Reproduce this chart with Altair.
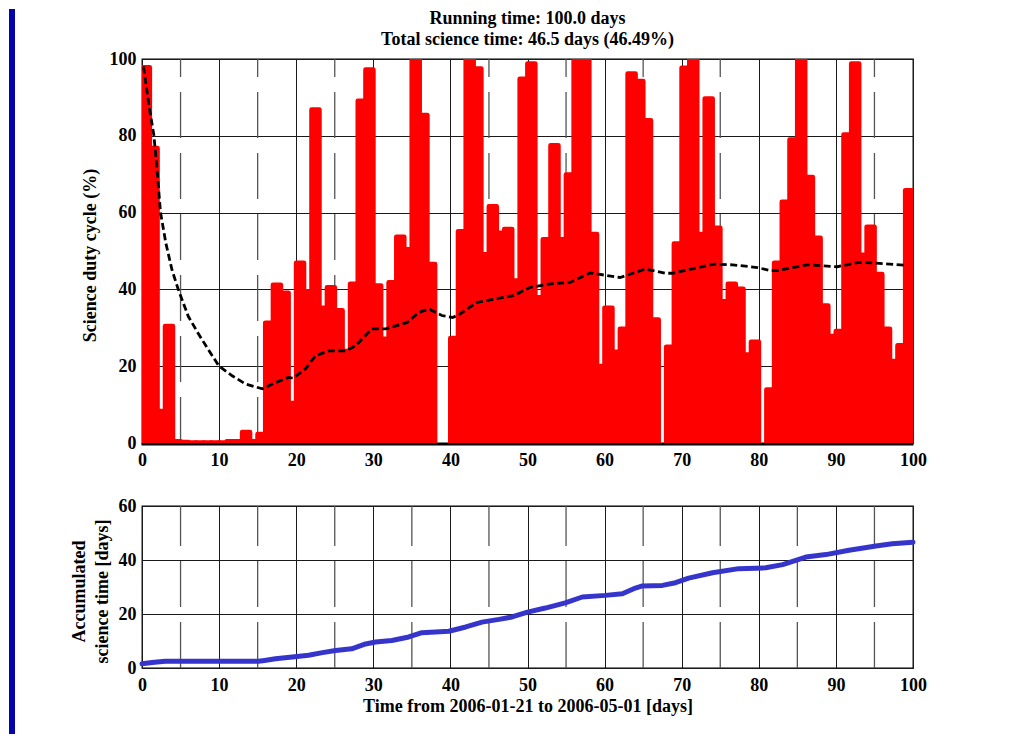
import altair as alt
import pandas as pd

FONT = "Liberation Serif"
RED = "#FF0000"
BLUE_LINE = "#3535CC"
FRAME_BLUE = "#0404AC"

# ---- data -------------------------------------------------------------
day_start = list(range(100))
duty_pct = [97.8, 76.8, 8.3, 30.4, 0.4, 0.2, 0.1, 0.1, 0.1, 0.1,
            0.1, 0.4, 0.4, 2.8, 0.4, 2.3, 31.3, 41.2, 39.1, 10.4,
            46.9, 39.5, 86.8, 35.2, 40.5, 34.5, 23.9, 41.4, 89.1, 97.2,
            41.0, 27.1, 41.8, 53.7, 50.4, 100, 85.4, 46.6, 0, 0,
            27.3, 55.1, 100, 97.5, 49.1, 61.6, 54.7, 55.7, 42.3, 94.8,
            98.8, 37.9, 53.0, 77.5, 53.0, 69.9, 100, 100, 54.4, 20.0,
            35.2, 23.7, 29.7, 96.2, 94.2, 84.0, 32.1, 0, 25.0, 51.9,
            97.7, 100, 54.4, 89.7, 56.0, 36.9, 41.4, 40.1, 23.0, 26.3,
            0, 13.9, 46.9, 62.8, 79.0, 100, 69.2, 53.4, 35.8, 27.8,
            29.1, 80.3, 98.8, 49.0, 56.3, 44.0, 29.7, 21.3, 25.4, 65.8]

# running mean of the duty cycle (dashed curve)
mean_t = [0.2, 0.9, 1.55, 2.0, 2.4, 3.1, 3.9, 4.7, 6.0, 7.3, 8.7, 10.0,
          11.7, 13.4, 15.6, 17.2, 19.0, 19.6, 21.2, 22.5, 24.2, 26.4, 27.7,
          29.8, 31.6, 34.4, 35.9, 37.2, 38.9, 40.3, 41.1, 43.4, 48.2, 50.3,
          52.8, 55.5, 58.1, 62.0, 65.3, 67.9, 68.8, 72.2, 74.2, 76.6, 79.8,
          81.5, 82.4, 86.3, 90.2, 92.8, 94.9, 98.8]
mean_v = [98.0, 88.0, 80.0, 70.0, 60.0, 52.0, 45.0, 40.0, 33.0, 28.5, 24.0, 20.0,
          17.5, 15.4, 14.1, 15.6, 17.1, 16.9, 19.3, 22.7, 24.0, 24.0, 25.3,
          29.7, 29.7, 31.4, 34.0, 34.9, 33.2, 32.7, 33.4, 36.6, 38.4, 40.5,
          41.4, 41.8, 44.3, 43.1, 45.3, 44.2, 44.2, 45.7, 46.6, 46.4, 45.7,
          44.9, 44.9, 46.4, 45.9, 47.0, 46.9, 46.3]

# accumulated science time (days)
acc_t = [0, 1.3, 3.0, 15.1, 15.9, 17.3, 19.5, 21.6, 23.4, 25.1, 27.2, 29.0,
         30.3, 32.4, 34.6, 36.3, 39.8, 42.0, 44.1, 46.3, 48.0, 50.0, 52.3,
         54.9, 57.1, 60.1, 62.3, 64.0, 64.9, 67.5, 69.2, 70.9, 74.0, 77.4,
         80.9, 83.1, 84.4, 86.1, 88.7, 91.7, 95.2, 97.3, 100]
acc_v = [1.6, 2.0, 2.5, 2.5, 2.8, 3.4, 4.1, 4.7, 5.7, 6.5, 7.1, 8.9,
         9.6, 10.2, 11.5, 13.1, 13.6, 15.2, 17.0, 18.0, 18.9, 20.7, 22.2,
         24.1, 26.3, 26.9, 27.5, 29.6, 30.4, 30.6, 31.6, 33.3, 35.3, 36.8,
         37.1, 38.3, 39.5, 41.1, 42.0, 43.6, 45.2, 46.0, 46.6]

x_ticks = list(range(0, 101, 10))
minor_x = list(range(5, 100, 10))
top_y_ticks = [0, 20, 40, 60, 80, 100]
bot_y_ticks = [0, 20, 40, 60]

title_lines = ["Running time: 100.0 days",
               "Total science time: 46.5 days (46.49%)"]
top_y_title = "Science duty cycle (%)"
bot_y_title = ["Accumulated", "science time [days]"]
x_title = "Time from 2006-01-21 to 2006-05-01 [days]"

bar_df = pd.DataFrame({"day": day_start, "duty": duty_pct})
mean_df = pd.DataFrame({"t": mean_t, "v": mean_v})
acc_df = pd.DataFrame({"t": acc_t, "v": acc_v})
minor_df = pd.DataFrame({"m": minor_x})
one_df = pd.DataFrame({"k": [0]})
title_df = pd.DataFrame({"line": title_lines, "row": [0, 1]})

W = 771
H1 = 384
H2 = 162

xscale = alt.Scale(domain=[0, 100], nice=False, zero=False)

lab = dict(labelFont=FONT, labelFontSize=18, labelFontWeight="bold",
           labelColor="black", ticks=False, tickSize=0, domain=False,
           grid=True, gridColor="#1a1a1a", gridWidth=1)


def x_axis(title=None):
    kw = dict(values=x_ticks, labelPadding=8, labelFlush=False, **lab)
    if title is not None:
        kw.update(title=title, titleFont=FONT, titleFontSize=18,
                  titleFontWeight="bold", titleColor="black",
                  titleY=43, titleBaseline="alphabetic")
    else:
        kw.update(title=None)
    return alt.Axis(**kw)


# ---------------- top panel ---------------------------------------------
minor_top = alt.Chart(minor_df).mark_rule(
    color="#555555", strokeWidth=1.3, strokeDash=[46, 15]
).encode(
    x=alt.X("m:Q", scale=xscale),
    y=alt.value(H1), y2=alt.value(0),
)

bars = alt.Chart(bar_df).transform_filter(
    "datum.duty > 0"
).transform_calculate(
    day_end="datum.day + 1"
).mark_bar(
    color=RED, stroke=RED, strokeWidth=4.8, strokeJoin="round", clip=True
).encode(
    x=alt.X("day:Q", scale=xscale, axis=x_axis()),
    x2="day_end:Q",
    y=alt.Y("duty:Q", scale=alt.Scale(domain=[0, 100], nice=False),
            axis=alt.Axis(values=top_y_ticks, labelPadding=6,
                          title=top_y_title, titleFont=FONT, titleFontSize=18,
                          titleFontWeight="bold", titleColor="black",
                          titleAngle=270, titleX=-51.5, titleY=196,
                          titleAlign="center", titleBaseline="middle",
                          **lab)),
    y2=alt.datum(0),
)

mean_line = alt.Chart(mean_df).mark_line(
    color="black", strokeWidth=2.8, strokeDash=[7, 3.5]
).encode(
    x=alt.X("t:Q", scale=xscale),
    y=alt.Y("v:Q", scale=alt.Scale(domain=[0, 100], nice=False)),
)

bottom_edge_top = alt.Chart(one_df).mark_rule(color="black", strokeWidth=2.6).encode(
    x=alt.value(-0.5), x2=alt.value(W + 0.5), y=alt.value(H1 + 1.2)
)

strip_top = alt.Chart(one_df).mark_rect(color=FRAME_BLUE).encode(
    x=alt.value(-133), x2=alt.value(-127), y=alt.value(-50), y2=alt.value(H1 + 34)
)

title_text = alt.Chart(title_df).transform_calculate(
    ty="datum.row * 21 - 35"
).mark_text(
    font=FONT, fontSize=18, fontWeight="bold", color="black",
    align="center", baseline="alphabetic"
).encode(
    text="line:N",
    x=alt.value(W / 2),
    y=alt.Y("ty:Q", scale=None),
)

top = alt.layer(minor_top, bars, mean_line, bottom_edge_top, strip_top,
                title_text).properties(width=W, height=H1)

# ---------------- bottom panel ------------------------------------------
minor_bot = alt.Chart(minor_df).mark_rule(
    color="#555555", strokeWidth=1.3, strokeDash=[46, 15]
).encode(
    x=alt.X("m:Q", scale=xscale, axis=x_axis(x_title)),
    y=alt.value(H2), y2=alt.value(0),
)

acc_line = alt.Chart(acc_df).mark_line(
    color=BLUE_LINE, strokeWidth=5, strokeCap="round", strokeJoin="round"
).encode(
    x=alt.X("t:Q", scale=xscale),
    y=alt.Y("v:Q", scale=alt.Scale(domain=[0, 60], nice=False),
            axis=alt.Axis(values=bot_y_ticks, labelPadding=6,
                          title=bot_y_title, titleFont=FONT, titleFontSize=18,
                          titleFontWeight="bold", titleColor="black",
                          titleAngle=270, titleX=-63, titleY=85,
                          titleAlign="center", titleBaseline="middle",
                          titleLineHeight=23.4, **lab)),
)

strip_bot = alt.Chart(one_df).mark_rect(color=FRAME_BLUE).encode(
    x=alt.value(-133), x2=alt.value(-127), y=alt.value(-31), y2=alt.value(228)
)

bottom = alt.layer(minor_bot, acc_line, strip_bot).properties(width=W, height=H2)

chart = alt.vconcat(top, bottom, spacing=63, bounds="flush").configure(
    background="white", padding=0
).configure_view(
    stroke="black", strokeWidth=1.3
)

chart.save("out.html", embed_options={"renderer": "svg", "actions": False})
